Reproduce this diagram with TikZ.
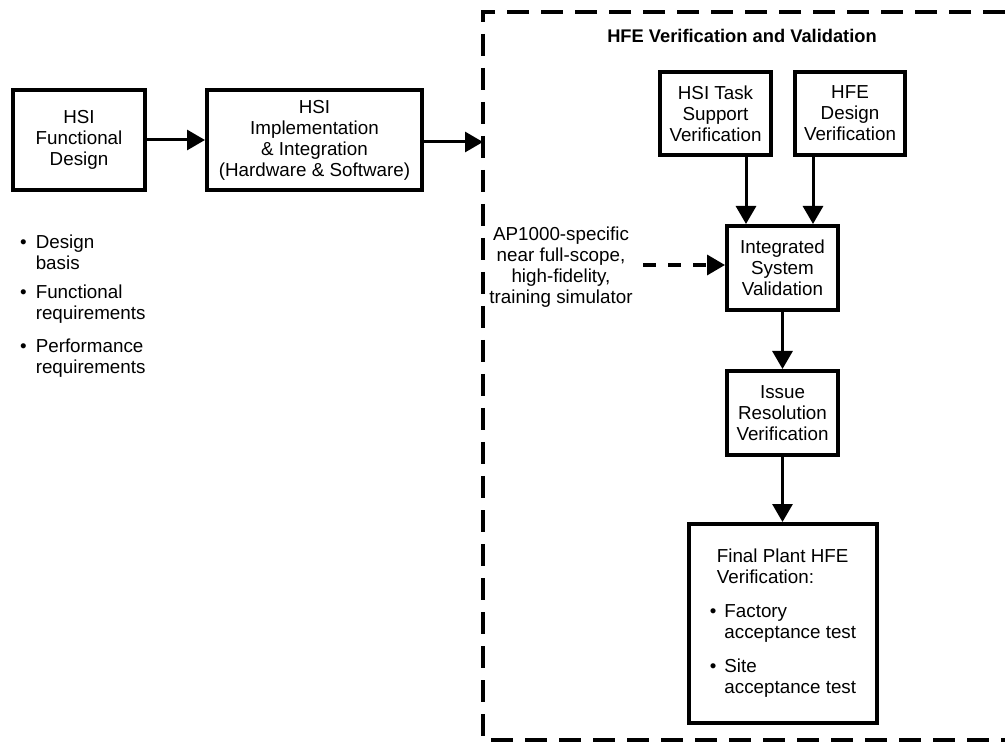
\documentclass[tikz,border=0pt]{standalone}
\usepackage{fontspec}
\setmainfont{Liberation Sans}
\usepackage{tikz}
\usetikzlibrary{arrows, arrows.meta, positioning, calc}
\tikzstyle{box} = [draw=black, line width=4pt, align=center, inner sep=2pt]
\tikzstyle{arrow} = [line width=3pt, -{Triangle[length=18pt,width=20pt]}]
\tikzstyle{dasharrow} = [line width=3.5pt, dash pattern=on 13pt off 12pt, -{Triangle[length=18pt,width=20pt]}]
\tikzstyle{frame} = [line width=4.5pt, dash pattern=on 22pt off 12pt]
\tikzstyle{txt} = [align=center, inner sep=0pt]

\begin{document}
\begin{tikzpicture}[x=1pt, y=-1pt, font=\fontsize{18.8}{21}\selectfont]
    \useasboundingbox (0,0) rectangle (1005,743);

    % Design boxes
    \node (fd) at (79,140) [box, minimum width=132pt, minimum height=100pt] {HSI\\Functional\\Design};
    \node (impl) at (314.5,140) [box, minimum width=215pt, minimum height=100pt] {HSI\\Implementation\\\& Integration\\(Hardware \& Software)};

    % Inputs to functional design
    \node (basis) at (20,234) [anchor=north west, inner sep=0pt] {%
        \begin{tabular}{@{}l@{\hspace{9pt}}l@{}}
            \textbullet & Design\\
                        & basis\\[8pt]
            \textbullet & Functional\\
                        & requirements\\[12pt]
            \textbullet & Performance\\
                        & requirements
        \end{tabular}};

    % V&V frame
    \draw[frame] (1005,12) -- (483,12) -- (483,740) -- (1005,740);
    \coordinate (vvin) at (483,142);
    \node (vvtitle) at (742,36) [txt, font=\fontsize{18.3}{21}\selectfont\bfseries] {HFE Verification and Validation};

    \node (task) at (715.5,113.5) [box, minimum width=111pt, minimum height=83pt] {HSI Task\\Support\\Verification};
    \node (hfed) at (850,113.5) [box, minimum width=110pt, minimum height=83pt] {HFE\\Design\\Verification};
    \node (isv) at (782.5,268) [box, minimum width=111pt, minimum height=84pt] {Integrated\\System\\Validation};
    \node (irv) at (782.5,413) [box, minimum width=111pt, minimum height=84pt] {Issue\\Resolution\\Verification};
    \node (fpv) at (783,623.5) [box, minimum width=188pt, minimum height=199pt] {%
        \begin{tabular}{@{}l@{\hspace{8pt}}l@{}}
            \multicolumn{2}{@{\hspace{7pt}}l@{}}{Final Plant HFE}\\
            \multicolumn{2}{@{\hspace{7pt}}l@{}}{Verification:}\\[13pt]
            \textbullet & Factory\\
                        & acceptance test\\[13pt]
            \textbullet & Site\\
                        & acceptance test
        \end{tabular}};

    % Simulator
    \node (sim) at (561,267) [txt] {AP1000-specific\\near full-scope,\\high-fidelity,\\training simulator};
    \coordinate (simsrc) at (643,265);

    % Arrows
    \draw[arrow] (fd) -- (impl);
    \draw[arrow] (impl.east |- vvin) -- (vvin);
    \draw[arrow] ([xshift=30.5pt]task.south) -- ([xshift=30.5pt]task.south |- isv.north);
    \draw[arrow] ([xshift=-37pt]hfed.south) -- ([xshift=-37pt]hfed.south |- isv.north);
    \draw[dasharrow] (simsrc) -- (simsrc -| isv.west);
    \draw[arrow] (isv) -- (irv);
    \draw[arrow] (irv) -- (irv |- fpv.north);
\end{tikzpicture}
\end{document}
